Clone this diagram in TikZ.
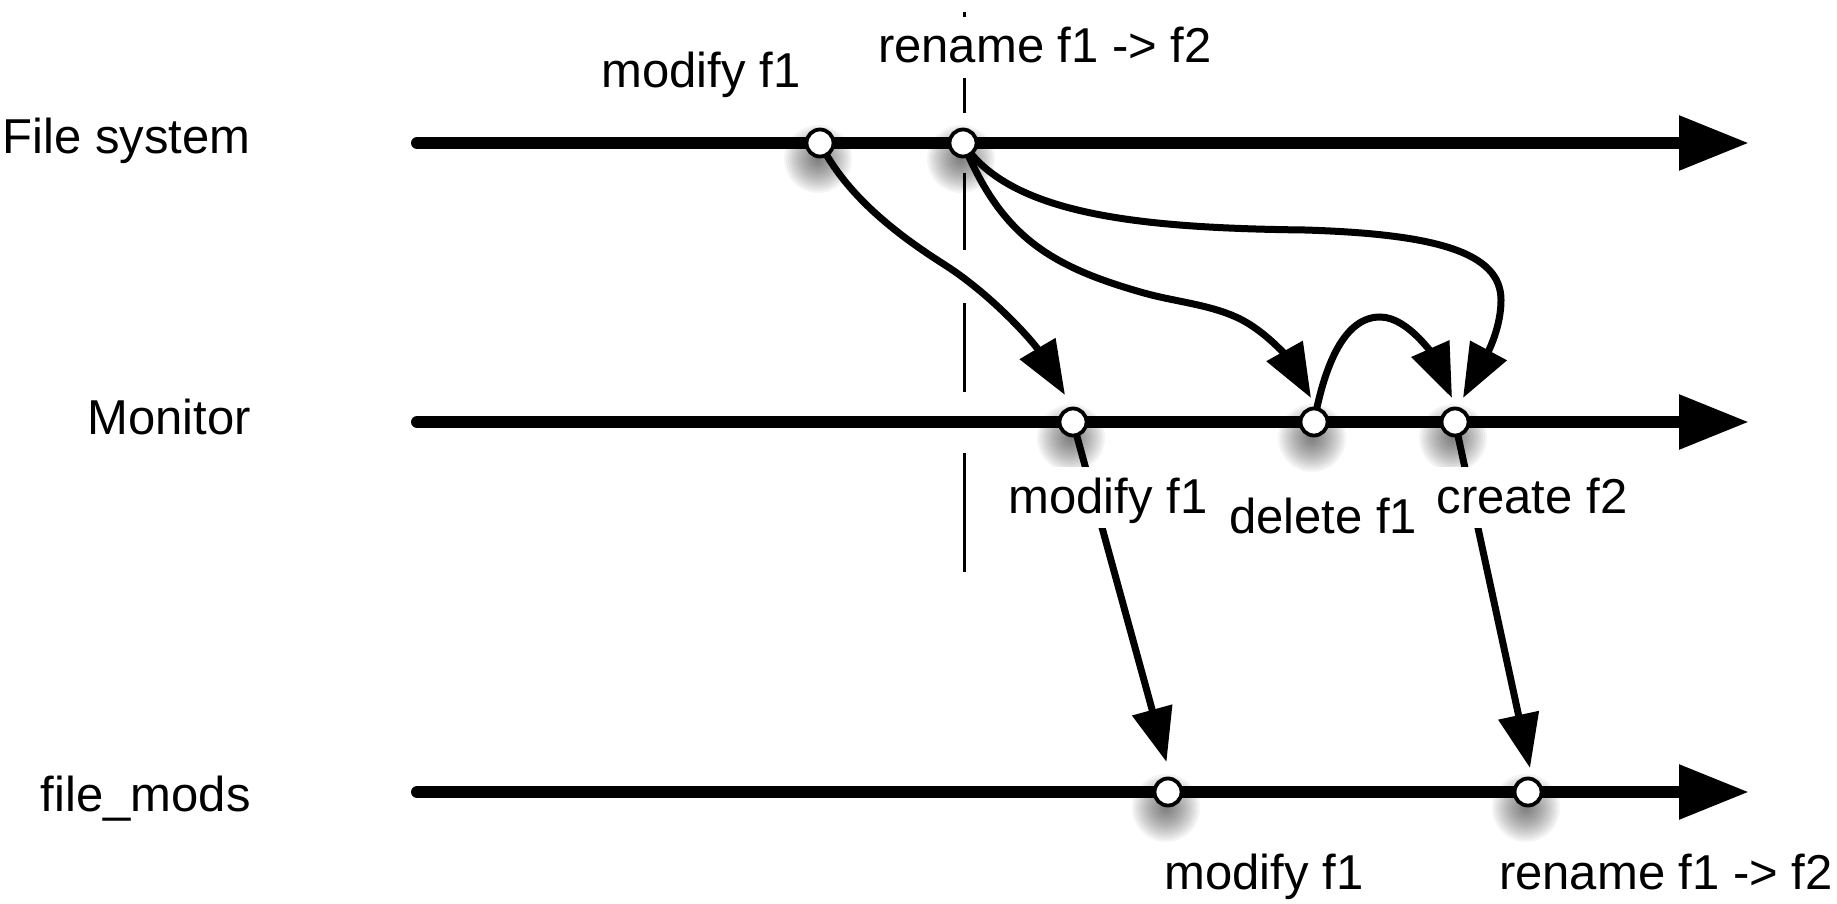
\documentclass[tikz,border=0pt]{standalone}
\usepackage{fontspec}
\setmainfont{Liberation Sans}
\usetikzlibrary{arrows.meta,calc}
\begin{document}
\begin{tikzpicture}[x=0.5pt,y=-0.5pt,
  lbl/.style={font=\fontsize{24.5pt}{29pt}\selectfont, inner sep=0pt, anchor=base},
  lblbg/.style={lbl, fill=white, text height=17.5pt, text depth=2pt, inner ysep=5.5pt, inner xsep=1.5pt},
  timeline/.style={line width=6pt, line cap=round, -{Triangle[length=35pt,width=26pt]}},
  conn/.style={line width=3.5pt, -{Triangle[length=27pt,width=20pt]}},
  evt/.style={circle, draw=black, fill=white, line width=1.9pt, minimum size=13.5pt, inner sep=0pt},
  guide/.style={line width=1.5pt}]
\useasboundingbox (0,0) rectangle (1837,904);
% event positions
\coordinate (a1) at (820,143);
\coordinate (a2) at (963,143);
\coordinate (b1) at (1073,422);
\coordinate (b2) at (1314,422);
\coordinate (b3) at (1455,422);
\coordinate (c1) at (1168,792);
\coordinate (c2) at (1528,792);
% arrow tip points
\coordinate (t1) at ($(b1)+(-8,-27)$);
\coordinate (t2) at ($(b2)+(-3,-24)$);
\coordinate (t3) at ($(b3)+(8,-24)$);
\coordinate (t4) at ($(b3)+(-3,-24)$);
\coordinate (t5) at ($(c1)+(-1.5,-30)$);
\coordinate (t6) at ($(c2)+(2,-24)$);
% timeline ends
\coordinate (fs0) at (417,143);  \coordinate (fs1) at (1749,143);
\coordinate (mo0) at (417,422);  \coordinate (mo1) at (1749,422);
\coordinate (fm0) at (417,792);  \coordinate (fm1) at (1749,792);
% shadows
\foreach \x/\y in {820/143,963/143,1073/422,1314/422,1455/422,1168/792,1528/792}{
  \foreach \r in {1,2,...,17}{
    \fill[black,opacity=0.04] (\x-2,\y+16) circle[radius=\r pt];
  }
}
% vertical guide line
\draw[guide] (964,12) -- (964,113);
\draw[guide] (964,173) -- (964,250);
\draw[guide] (964,303) -- (964,392);
\draw[guide] (964,453) -- (964,572);
% timelines
\draw[timeline] (fs0) -- (fs1);
\draw[timeline] (mo0) -- (mo1);
\draw[timeline] (fm0) -- (fm1);
% connectors
\draw[conn] (a1) .. controls (846,195) and (896,234) .. (945,265)
                 .. controls (994.6,296.9) and (1035,344.3) .. (t1);
\draw[conn] (a2) .. controls (1001,235) and (1048,266) .. (1144,293)
                 .. controls (1173.8,301.4) and (1207.8,304.3) .. (1236,317)
                 .. controls (1269.7,332.2) and (1292.9,365.8) .. (t2);
\draw[conn] (a2) .. controls (1010,215) and (1140,228) .. (1305,230)
                 .. controls (1435,234) and (1501,252) .. (1501,300)
                 .. controls (1501,335) and (1479.5,367.2) .. (t3);
\draw[conn] (b2) .. controls (1325,363) and (1345,317) .. (1380,317)
                 .. controls (1410,317) and (1436,361.6) .. (t4);
\draw[conn] (b1) -- (t5);
\draw[conn] (b3) -- (t6);
% event circles
\node[evt] (e1) at (a1) {};
\node[evt] (e2) at (a2) {};
\node[evt] (e3) at (b1) {};
\node[evt] (e4) at (b2) {};
\node[evt] (e5) at (b3) {};
\node[evt] (e6) at (c1) {};
\node[evt] (e7) at (c2) {};
% labels
\node[lbl, anchor=base east] (lfs) at (251,154) {File system};
\node[lbl, anchor=base east] (lmo) at (251,434) {Monitor};
\node[lbl, anchor=base east] (lfm) at (251,811) {file\_mods};
\node[lbl] (l1) at (701,88) {modify f1};
\node[lblbg] (l2) at (1045,63) {rename f1 -> f2};
\node[lblbg] (l3) at (1108,513) {modify f1};
\node[lbl] (l4) at (1323,533) {delete f1};
\node[lblbg] (l5) at (1532,513) {create f2};
\node[lbl] (l6) at (1264,889) {modify f1};
\node[lbl] (l7) at (1666,889) {rename f1 -> f2};
\end{tikzpicture}
\end{document}
